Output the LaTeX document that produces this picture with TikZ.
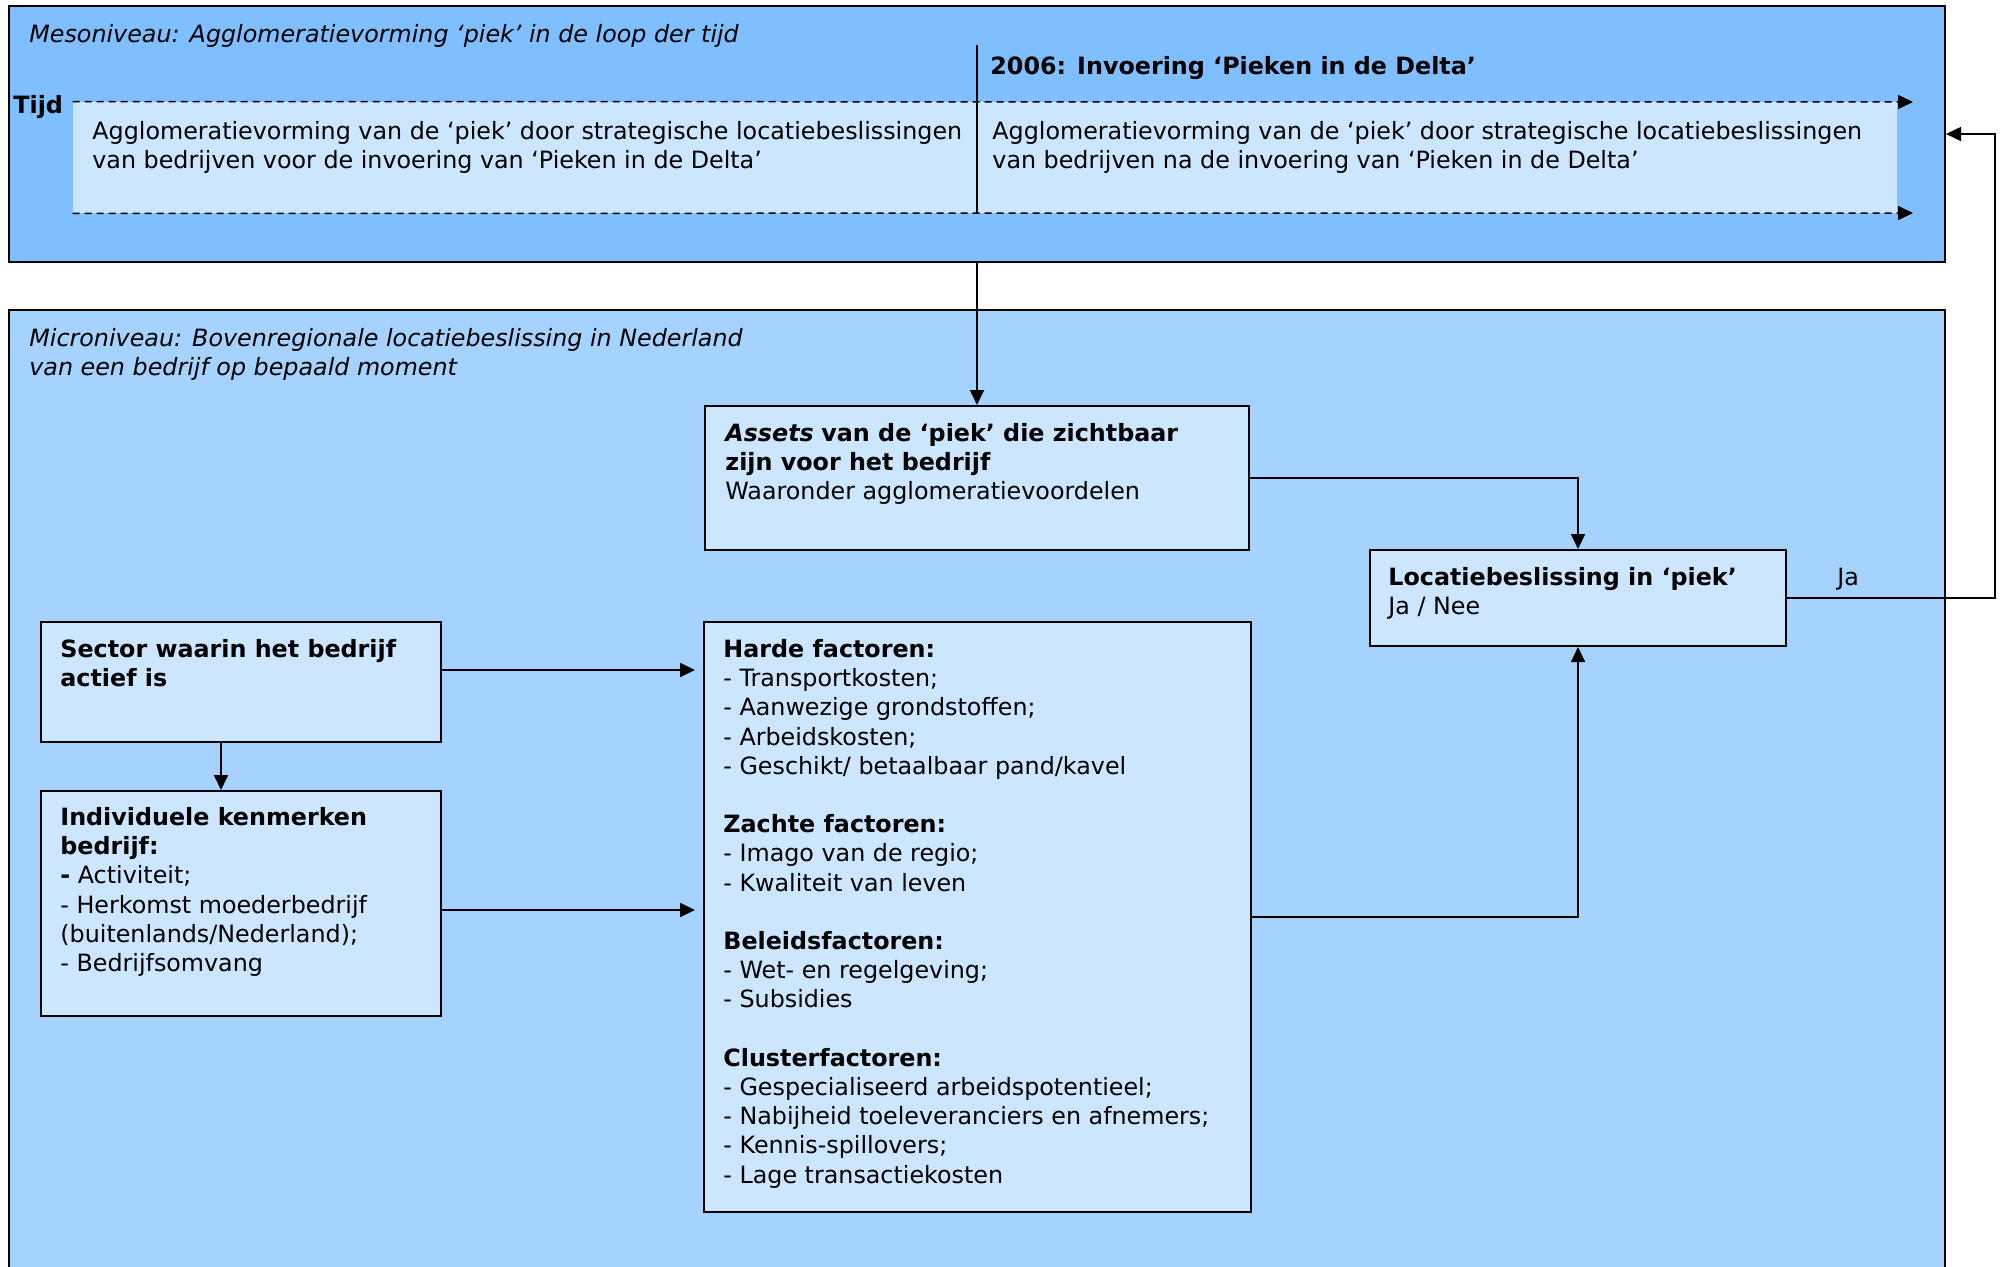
\documentclass[tikz,border=0pt]{standalone}
\usepackage{fontspec}
\setmainfont{DejaVu Sans}
\usetikzlibrary{arrows.meta,fit}
\definecolor{mesoblue}{RGB}{128,191,255}
\definecolor{microblue}{RGB}{166,210,255}
\definecolor{boxblue}{RGB}{204,230,255}

\begin{document}
\begin{tikzpicture}[x=0.5pt,y=-0.5pt,
  txt/.style={anchor=north west, inner sep=0pt, align=left,
              font=\fontsize{11.9}{14.6}\selectfont},
  panel/.style={draw=black, line width=1pt, inner sep=0pt},
  card/.style={draw=black, line width=1pt, fill=boxblue, inner sep=0pt},
  link/.style={line width=0.85pt, -{Triangle[length=7.5pt,width=7pt]}},
  timeline/.style={line width=0.75pt, dash pattern=on 3.5pt off 2.5pt,
                   -{Triangle[length=7.5pt,width=7pt]}}]

\clip (0,0) rectangle (2000,1267);

% two levels
\node[panel, fill=mesoblue, fit={(9,6) (1945,262)}] (meso) {};
\node[panel, fill=microblue, fit={(9,310) (1945,1300)}] (micro) {};

% meso level: the period band and the time axis
\node[fill=boxblue, inner sep=0pt, fit={(73,102) (1897,213)}] (era) {};
\coordinate (axisTop) at (1913,102);
\coordinate (axisBot) at (1913,213);
\draw[timeline] (era.north west) -- (axisTop);
\draw[timeline] (era.south west) -- (axisBot);
\coordinate (mark) at (977,45);
\draw[line width=0.85pt] (mark) -- (mark |- era.south);

\node[txt, font=\fontsize{11.9}{14.6}\selectfont\itshape] (mesotitle) at (29,21.7)
  {\strut Mesoniveau: Agglomeratievorming ‘piek’ in de loop der tijd};
\node[txt, font=\fontsize{11.9}{14.6}\selectfont\bfseries] (year) at (990,53.7)
  {\strut 2006: Invoering ‘Pieken in de Delta’};
\node[txt, font=\fontsize{11.9}{14.6}\selectfont\bfseries] (tijd) at (13,92.7)
  {\strut Tijd};
\node[txt] (before) at (92,118.7)
  {\strut Agglomeratievorming van de ‘piek’ door strategische locatiebeslissingen\\
   van bedrijven voor de invoering van ‘Pieken in de Delta’};
\node[txt] (after) at (992,118.7)
  {\strut Agglomeratievorming van de ‘piek’ door strategische locatiebeslissingen\\
   van bedrijven na de invoering van ‘Pieken in de Delta’};

% micro level
\node[txt, font=\fontsize{11.9}{14.6}\selectfont\itshape] (microtitle) at (29,325.7)
  {\strut Microniveau: Bovenregionale locatiebeslissing in Nederland\\
   van een bedrijf op bepaald moment};

\node[card, fit={(705,406) (1249,550)}] (assets) {};
\node[card, fit={(1370,550) (1786,646)}] (loc) {};
\node[card, fit={(41,622) (441,742)}] (sector) {};
\node[card, fit={(41,791) (441,1016)}] (indiv) {};
\node[card, fit={(704,622) (1251,1212)}] (factors) {};

\node[txt] (assetstext) at ([shift={(21,15.7)}]assets.north west)
  {\strut\textbf{\textit{Assets}} \textbf{van de ‘piek’ die zichtbaar}\\
   \textbf{zijn voor het bedrijf}\\
   Waaronder agglomeratievoordelen};
\node[txt] (loctext) at ([shift={(19,15.7)}]loc.north west)
  {\strut\textbf{Locatiebeslissing in ‘piek’}\\
   Ja / Nee};
\node[txt] (sectortext) at ([shift={(20,15.7)}]sector.north west)
  {\strut\textbf{Sector waarin het bedrijf}\\
   \textbf{actief is}};
\node[txt] (indivtext) at ([shift={(20,14.7)}]indiv.north west)
  {\strut\textbf{Individuele kenmerken}\\
   \textbf{bedrijf:}\\
   \textbf{-} Activiteit;\\
   - Herkomst moederbedrijf\\
   (buitenlands/Nederland);\\
   - Bedrijfsomvang};
\node[txt] (factorstext) at ([shift={(20,15.7)}]factors.north west)
  {\strut\textbf{Harde factoren:}\\
   - Transportkosten;\\
   - Aanwezige grondstoffen;\\
   - Arbeidskosten;\\
   - Geschikt/ betaalbaar pand/kavel\\[14.6pt]
   \textbf{Zachte factoren:}\\
   - Imago van de regio;\\
   - Kwaliteit van leven\\[14.6pt]
   \textbf{Beleidsfactoren:}\\
   - Wet- en regelgeving;\\
   - Subsidies\\[14.6pt]
   \textbf{Clusterfactoren:}\\
   - Gespecialiseerd arbeidspotentieel;\\
   - Nabijheid toeleveranciers en afnemers;\\
   - Kennis-spillovers;\\
   - Lage transactiekosten};

% connectors
\coordinate (rowA) at (0,670);
\coordinate (rowB) at (0,910);
\coordinate (colA) at (221,0);
\draw[link] (meso.south -| assets.north) -- (assets.north);
\draw[link] (assets.east) -| (loc.north);
\draw[link] (factors.east) -| (loc.south);
\draw[link] (sector.east |- rowA) -- ([xshift=-4pt]factors.west |- rowA);
\draw[link] (indiv.east |- rowB) -- ([xshift=-4pt]factors.west |- rowB);
\draw[link] (sector.south -| colA) -- (indiv.north -| colA);
\draw[link] (loc.east) -- ++(208,0) |- (meso.east);
\node[txt] (ja) at (1837,564.7) {\strut Ja};

\end{tikzpicture}
\end{document}
